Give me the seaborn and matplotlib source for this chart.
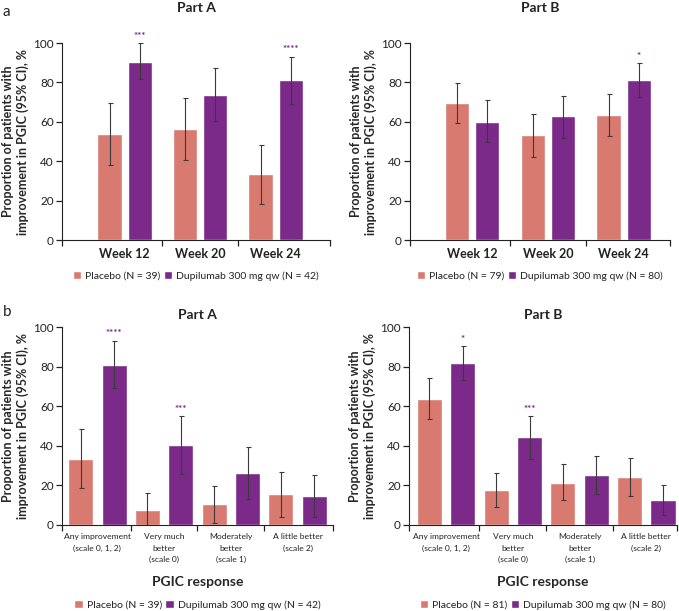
import pandas as pd
import matplotlib
matplotlib.use('Agg')
import matplotlib.pyplot as plt
import seaborn as sns
from matplotlib.ticker import FixedLocator

# categories
weeks = ['Week 12', 'Week 20', 'Week 24']
responses = ['Any improvement\n(scale 0, 1, 2)', 'Very much\nbetter\n(scale 0)',
             'Moderately\nbetter\n(scale 1)', 'A little better\n(scale 2)']

# panel a, Part A
aA_pbo = [53.8, 56.4, 33.3]
aA_pbo_lo = [38.0, 40.7, 18.4]
aA_pbo_hi = [69.6, 72.3, 48.0]
aA_dup = [90.5, 73.8, 81.0]
aA_dup_lo = [81.6, 60.6, 69.1]
aA_dup_hi = [99.8, 87.5, 93.1]
aA_stars = ['***', '', '****']
aA_labels = ['Placebo (N = 39)', 'Dupilumab 300 mg qw (N = 42)']

# panel a, Part B
aB_pbo = [69.6, 53.2, 63.3]
aB_pbo_lo = [59.6, 42.2, 52.9]
aB_pbo_hi = [79.9, 64.2, 74.2]
aB_dup = [60.0, 62.7, 81.4]
aB_dup_lo = [49.7, 52.0, 72.6]
aB_dup_hi = [70.9, 73.3, 90.0]
aB_stars = ['', '', '*']
aB_labels = ['Placebo (N = 79)', 'Dupilumab 300 mg qw (N = 80)']

# panel b, Part A
bA_pbo = [33.3, 7.6, 10.3, 15.5]
bA_pbo_lo = [18.7, 0.0, 0.7, 4.0]
bA_pbo_hi = [48.2, 16.0, 19.7, 26.6]
bA_dup = [81.0, 40.5, 26.2, 14.3]
bA_dup_lo = [69.0, 25.6, 12.8, 3.7]
bA_dup_hi = [93.1, 55.1, 39.5, 25.0]
bA_stars = ['****', '***', '', '']
bA_labels = ['Placebo (N = 39)', 'Dupilumab 300 mg qw (N = 42)']

# panel b, Part B
bB_pbo = [63.6, 17.7, 21.1, 24.1]
bB_pbo_lo = [53.3, 9.1, 12.3, 14.7]
bB_pbo_hi = [74.4, 26.3, 30.7, 33.6]
bB_dup = [81.8, 44.2, 25.1, 12.6]
bB_dup_lo = [73.4, 33.1, 15.3, 5.1]
bB_dup_hi = [90.2, 55.0, 34.9, 19.9]
bB_stars = ['*', '***', '', '']
bB_labels = ['Placebo (N = 81)', 'Dupilumab 300 mg qw (N = 80)']

c_pbo = '#D97A70'
c_dup = '#7B2A8A'

sns.set_style('ticks')
plt.rcParams['font.family'] = ['Lato', 'DejaVu Sans']
plt.rcParams['axes.edgecolor'] = '#222222'
plt.rcParams['text.color'] = '#222222'
plt.rcParams['xtick.color'] = '#222222'
plt.rcParams['ytick.color'] = '#222222'


def draw(ax, cats, pbo, pbo_lo, pbo_hi, dup, dup_lo, dup_hi, stars, labels,
         width, gap, xlim, title, title_pad, tick_fs, tick_bold, leg_y):
    n = len(cats)
    df = pd.DataFrame({'cat': cats * 2,
                       'group': [labels[0]] * n + [labels[1]] * n,
                       'value': pbo + dup})
    sns.barplot(data=df, x='cat', y='value', hue='group', palette=[c_pbo, c_dup],
                width=width, gap=gap, errorbar=None, saturation=1, ax=ax)
    for cont, lo, hi, st in zip(ax.containers, [pbo_lo, dup_lo], [pbo_hi, dup_hi],
                                [[''] * n, stars]):
        for bar, l, h, s in zip(cont, lo, hi, st):
            x = bar.get_x() + bar.get_width() / 2
            v = bar.get_height()
            ax.errorbar(x, v, yerr=[[v - l], [h - v]], color='#3a3a3a', lw=0.8,
                        capsize=1.8, capthick=0.8)
            if s:
                ax.annotate(s, (x, h), xytext=(0, 3), textcoords='offset points',
                            ha='center', va='baseline', color=c_dup,
                            fontsize=7, fontweight='bold')
    ax.set_ylim(0, 100)
    ax.set_yticks([0, 20, 40, 60, 80, 100])
    ax.set_xlim(*xlim)
    ax.set_xticks(range(n), labels=cats, fontsize=tick_fs,
                  fontweight='bold' if tick_bold else 'normal')
    for t in ax.xaxis.get_majorticklabels():
        t.set_linespacing(1.75)
    ax.xaxis.set_minor_locator(FixedLocator([xlim[0]] + [i + 0.5 for i in range(n - 1)] + [xlim[1]]))
    ax.tick_params(axis='x', which='major', length=0, pad=6)
    ax.tick_params(axis='x', which='minor', length=4, width=0.9)
    ax.tick_params(axis='y', length=4, width=0.9, labelsize=8.5, pad=2)
    ax.set_xlabel('')
    ax.set_ylabel('Proportion of patients with\nimprovement in PGIC (95% CI), %',
                  fontsize=9, fontweight='bold', linespacing=1.2, labelpad=3)
    ax.set_title(title, fontsize=10, fontweight='bold', pad=title_pad)
    sns.despine(ax=ax)
    h, l = ax.get_legend_handles_labels()
    ax.legend(h, l, loc='center', bbox_to_anchor=(0.5, leg_y), ncol=2, frameon=False,
              handlelength=0.8, handleheight=0.8, handletextpad=0.4,
              columnspacing=0.3, fontsize=7.5)


fig = plt.figure(figsize=(6.79, 6.11), dpi=100)
ax1 = fig.add_axes([0.0913, 0.6072, 0.3947, 0.3224])
ax2 = fig.add_axes([0.6038, 0.6072, 0.3829, 0.3224])
ax3 = fig.add_axes([0.0913, 0.1412, 0.3991, 0.3236])
ax4 = fig.add_axes([0.6024, 0.1412, 0.3947, 0.3236])

draw(ax1, weeks, aA_pbo, aA_pbo_lo, aA_pbo_hi, aA_dup, aA_dup_lo, aA_dup_hi, aA_stars,
     aA_labels, 0.8, 0.2, (-0.83, 2.72), 'Part A', 22, 9, True, -0.183)
draw(ax2, weeks, aB_pbo, aB_pbo_lo, aB_pbo_hi, aB_dup, aB_dup_lo, aB_dup_hi, aB_stars,
     aB_labels, 0.8, 0.2, (-0.82, 2.61), 'Part B', 22, 9, True, -0.183)
draw(ax3, responses, bA_pbo, bA_pbo_lo, bA_pbo_hi, bA_dup, bA_dup_lo, bA_dup_hi, bA_stars,
     bA_labels, 1.0, 0.25, (-0.53, 3.53), 'Part A', 6, 6.1, False, -0.405)
draw(ax4, responses, bB_pbo, bB_pbo_lo, bB_pbo_hi, bB_dup, bB_dup_lo, bB_dup_hi, bB_stars,
     bB_labels, 1.0, 0.25, (-0.555, 3.46), 'Part B', 6, 6.1, False, -0.405)

for ax in (ax3, ax4):
    ax.set_xlabel('PGIC response', fontsize=10, fontweight='bold')
    ax.xaxis.set_label_coords(0.5, -0.26)

fig.text(0.004, 1 - 12 / 611, 'a', fontsize=11, va='center')
fig.text(0.004, 1 - 312 / 611, 'b', fontsize=11, va='center')

fig.savefig('out.png', dpi=100)
